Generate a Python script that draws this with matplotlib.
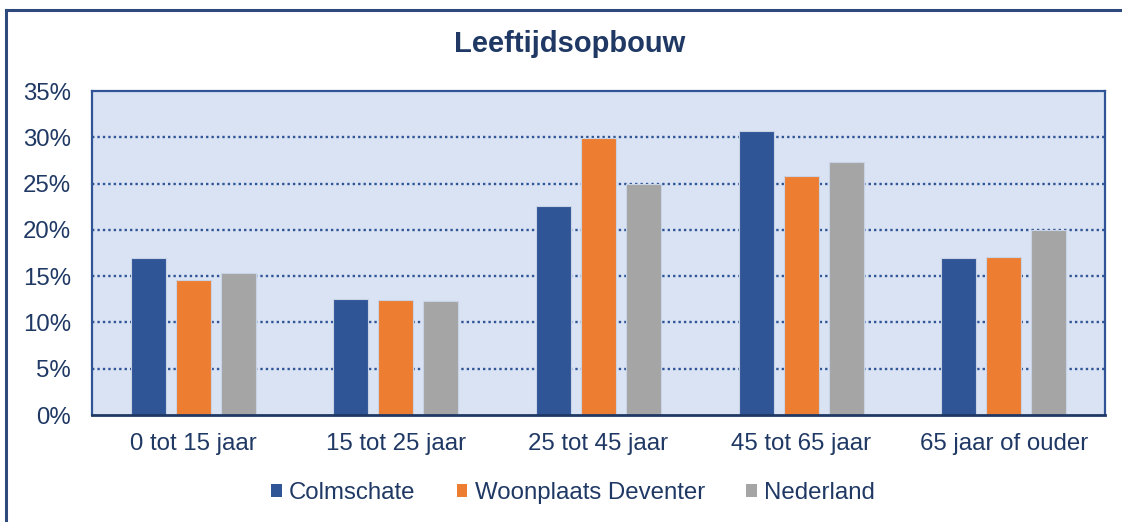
import matplotlib
matplotlib.use("Agg")
import matplotlib.pyplot as plt
import numpy as np
from matplotlib.lines import Line2D
from matplotlib.patches import Patch

categories = ["0 tot 15 jaar", "15 tot 25 jaar", "25 tot 45 jaar", "45 tot 65 jaar", "65 jaar of ouder"]
series_names = ["Colmschate", "Woonplaats Deventer", "Nederland"]
colmschate = [17.0, 12.5, 22.6, 30.7, 17.0]
deventer = [14.6, 12.4, 29.9, 25.8, 17.1]
nederland = [15.3, 12.3, 25.0, 27.3, 20.0]
yticks = [0, 5, 10, 15, 20, 25, 30, 35]
ytick_labels = ["0%", "5%", "10%", "15%", "20%", "25%", "30%", "35%"]
title = "Leeftijdsopbouw"

colors = ["#2F5597", "#ED7D31", "#A5A5A5"]
text_color = "#1F3864"
plt.rcParams['font.family'] = ['Liberation Sans', 'DejaVu Sans']

W, H = 1122, 522
fig = plt.figure(figsize=(W / 100, H / 100), dpi=100)
fig.patch.set_facecolor("white")

# outer border (top and left visible)
fig.add_artist(Line2D([6 / W, 6 / W], [0, 1 - 10 / H], color="#2E4A7D", lw=2.2, transform=fig.transFigure))
fig.add_artist(Line2D([6 / W, 1.0], [1 - 10 / H, 1 - 10 / H], color="#2E4A7D", lw=2.2, transform=fig.transFigure))

left, right, top, bottom = 92, 1105, 91, 415
ax = fig.add_axes([left / W, 1 - bottom / H, (right - left) / W, (bottom - top) / H])
ax.set_facecolor("#DAE3F3")

x = np.arange(len(categories))
bw = 0.172
off = 0.222
for i, (vals, c, name) in enumerate(zip([colmschate, deventer, nederland], colors, series_names)):
    ax.bar(x + (i - 1) * off, vals, width=bw, color=c, edgecolor="#C9D3E6", linewidth=0.8, zorder=3, label=name)

ax.set_xlim(-0.5, len(categories) - 0.5)
ax.set_ylim(0, 35)
ax.set_yticks(yticks)
ax.set_yticklabels(ytick_labels)
ax.set_xticks(x)
ax.set_xticklabels(categories)
for yv in yticks[1:-1]:
    ax.axhline(yv, color="#2F5597", lw=1.7, linestyle=(0, (1, 1.3)), zorder=2)

ax.tick_params(axis="both", length=0, labelsize=17.3, colors=text_color)
ax.tick_params(axis="y", pad=15)
ax.tick_params(axis="x", pad=13)
for s in ["left", "right", "top"]:
    ax.spines[s].set_color("#2F5597")
    ax.spines[s].set_linewidth(1.6)
ax.spines["bottom"].set_color("#1F3864")
ax.spines["bottom"].set_linewidth(2.0)
ax.spines["bottom"].set_zorder(4)

fig.text(570 / W, 1 - 44 / H, title, ha="center", va="center", fontsize=21,
         fontweight="bold", color=text_color)

handles = [Patch(facecolor=c, edgecolor="none") for c in colors]
leg = fig.legend(handles, series_names, loc="center", bbox_to_anchor=(573 / W, 1 - 493 / H),
                 ncol=3, frameon=False, fontsize=17.3, handlelength=0.45, handleheight=0.45,
                 handletextpad=0.3, columnspacing=1.72, borderpad=0, borderaxespad=0)
for t in leg.get_texts():
    t.set_color(text_color)

fig.savefig("out.png", dpi=100, facecolor="white")
